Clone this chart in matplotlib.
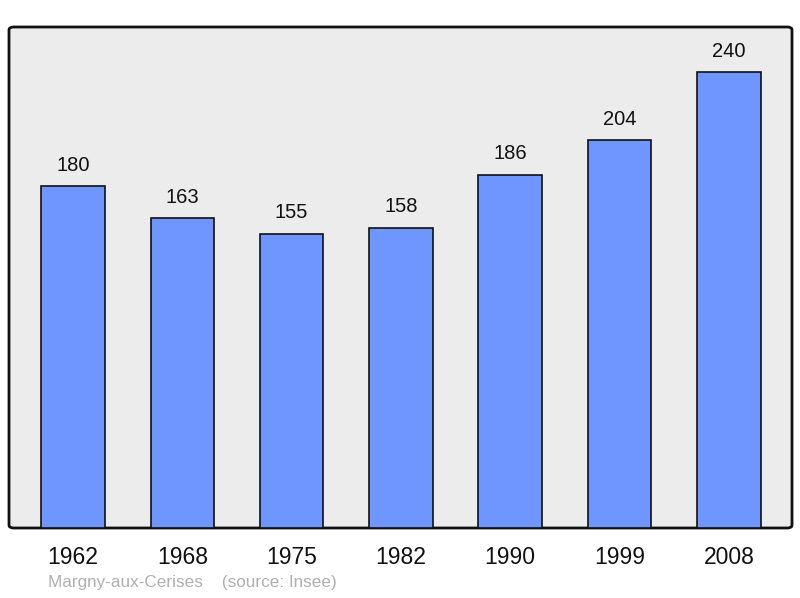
import matplotlib.pyplot as plt
from matplotlib.patches import FancyBboxPatch

years = ['1962', '1968', '1975', '1982', '1990', '1999', '2008']
population = [180, 163, 155, 158, 186, 204, 240]
town = 'Margny-aux-Cerises'
source = '(source: Insee)'

plt.rcParams['font.family'] = ['Liberation Sans', 'DejaVu Sans']

fig = plt.figure(figsize=(8, 5.98), dpi=100)
ax = fig.add_axes([9 / 800, 70 / 598, 783 / 800, 501 / 598])
ax.set_facecolor('none')

# rounded background frame
frame = FancyBboxPatch((0, 0), 1, 1, boxstyle='round,pad=0,rounding_size=0.006',
                       transform=ax.transAxes, facecolor='#ececec',
                       edgecolor='#111111', linewidth=2, zorder=0, clip_on=False)
ax.add_patch(frame)

x = list(range(len(years)))
ax.bar(x, population, width=0.58, color='#6f96ff', edgecolor='#111111',
       linewidth=1.2, zorder=2)
for xi, v in zip(x, population):
    ax.text(xi, v + 6, str(v), ha='center', va='bottom', fontsize=14.5, color='#111111')

ax.set_xlim(-0.585, len(years) - 1 + 0.578)
ax.set_ylim(0, 263.7)
for s in ax.spines.values():
    s.set_visible(False)
ax.set_yticks([])
ax.set_xticks(x)
ax.set_xticklabels(years, fontsize=16.5, color='#111111')
ax.tick_params(axis='x', length=0, pad=13)

fig.text(48 / 800, 1 - 583 / 598, town + '    ' + source, fontsize=12.3,
         color='#b0b0b0', va='center', ha='left')

fig.savefig('out.png', dpi=100)
